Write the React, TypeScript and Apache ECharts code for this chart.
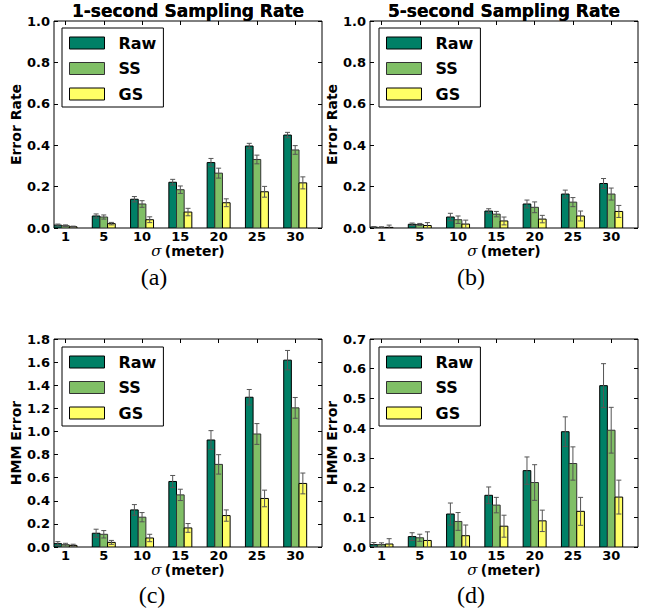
import React, { useEffect, useRef } from "react";
import * as echarts from "echarts";

// ---- data ----
const sigmaLabels = ["1", "5", "10", "15", "20", "25", "30"];
const methodNames = ["Raw", "SS", "GS"];
const methodColors = ["#008066", "#80bf66", "#ffff66"];

// (a) 1-second, error rate
const errRate1sRaw = [0.014, 0.058, 0.139, 0.221, 0.316, 0.396, 0.449];
const errRate1sRawErr = [0.005, 0.01, 0.013, 0.014, 0.02, 0.013, 0.013];
const errRate1sSS = [0.011, 0.053, 0.116, 0.185, 0.265, 0.331, 0.377];
const errRate1sSSErr = [0.004, 0.01, 0.016, 0.018, 0.024, 0.021, 0.021];
const errRate1sGS = [0.006, 0.021, 0.04, 0.077, 0.122, 0.175, 0.218];
const errRate1sGSErr = [0.003, 0.006, 0.014, 0.018, 0.019, 0.026, 0.029];

// (b) 5-second, error rate
const errRate5sRaw = [0.004, 0.018, 0.053, 0.082, 0.116, 0.164, 0.215];
const errRate5sRawErr = [0.003, 0.006, 0.018, 0.011, 0.019, 0.019, 0.024];
const errRate5sSS = [0.003, 0.017, 0.04, 0.067, 0.1, 0.125, 0.164];
const errRate5sSSErr = [0.003, 0.005, 0.018, 0.013, 0.026, 0.022, 0.029];
const errRate5sGS = [0.003, 0.012, 0.019, 0.034, 0.043, 0.058, 0.08];
const errRate5sGSErr = [0.011, 0.014, 0.019, 0.019, 0.018, 0.024, 0.029];

// (c) 1-second, HMM error
const hmm1sRaw = [0.029, 0.119, 0.321, 0.567, 0.926, 1.296, 1.617];
const hmm1sRawErr = [0.017, 0.035, 0.046, 0.052, 0.081, 0.067, 0.084];
const hmm1sSS = [0.02, 0.11, 0.258, 0.451, 0.715, 0.978, 1.204];
const hmm1sSSErr = [0.012, 0.032, 0.04, 0.049, 0.084, 0.09, 0.09];
const hmm1sGS = [0.014, 0.04, 0.078, 0.165, 0.272, 0.42, 0.55];
const hmm1sGSErr = [0.01, 0.017, 0.032, 0.038, 0.049, 0.072, 0.09];

// (d) 5-second, HMM error
const hmm5sRaw = [0.008, 0.035, 0.111, 0.174, 0.257, 0.388, 0.543];
const hmm5sRawErr = [0.007, 0.013, 0.037, 0.028, 0.046, 0.05, 0.074];
const hmm5sSS = [0.008, 0.031, 0.086, 0.141, 0.217, 0.281, 0.393];
const hmm5sSSErr = [0.006, 0.012, 0.03, 0.026, 0.06, 0.056, 0.077];
const hmm5sGS = [0.01, 0.022, 0.038, 0.07, 0.088, 0.12, 0.168];
const hmm5sGSErr = [0.018, 0.029, 0.036, 0.037, 0.036, 0.047, 0.057];

const panelTitles = [
  "1-second Sampling Rate",
  "5-second Sampling Rate",
  "1-second Sampling Rate",
  "5-second Sampling Rate",
];
const panelYNames = ["Error Rate", "Error Rate", "HMM Error", "HMM Error"];
const panelCaptions = ["(a)", "(b)", "(c)", "(d)"];
const panelYMax = [1.0, 1.0, 1.8, 0.7];
const panelYStep = [0.2, 0.2, 0.2, 0.1];
const panelValues = [
  [errRate1sRaw, errRate1sSS, errRate1sGS],
  [errRate5sRaw, errRate5sSS, errRate5sGS],
  [hmm1sRaw, hmm1sSS, hmm1sGS],
  [hmm5sRaw, hmm5sSS, hmm5sGS],
];
const panelErrors = [
  [errRate1sRawErr, errRate1sSSErr, errRate1sGSErr],
  [errRate5sRawErr, errRate5sSSErr, errRate5sGSErr],
  [hmm1sRawErr, hmm1sSSErr, hmm1sGSErr],
  [hmm5sRawErr, hmm5sSSErr, hmm5sGSErr],
];

// ---- layout ----
const layout = [
  { left: 54, top: 21, width: 268, height: 207, legL: 62, legT: 28, capX: 154, capY: 277 },
  { left: 370, top: 21, width: 268, height: 207, legL: 379, legT: 28, capX: 471, capY: 277 },
  { left: 54, top: 339, width: 268, height: 208, legL: 62, legT: 347, capX: 152, capY: 595 },
  { left: 370, top: 339, width: 268, height: 208, legL: 379, legT: 347, capX: 471, capY: 595 },
];
const BAR_W = 0.2;
const N_GROUPS = 7;
const FONT = "DejaVu Sans";
const edgeColors = ["#000", "#333", "#000"];

function makeRenderItem(offset: number, edge: string) {
  return (params: any, api: any) => {
    const i = api.value(0);
    const v = api.value(1);
    const e = api.value(2);
    const xl = i + offset;
    const xr = xl + BAR_W;
    const pBase = api.coord([xl, 0]);
    const pTop = api.coord([xr, v]);
    const xc = api.coord([xl + BAR_W / 2, v])[0];
    const yLo = api.coord([xl, Math.max(v - e, 0)])[1];
    const yHi = api.coord([xl, v + e])[1];
    const cap = 2.5;
    const errStyle = { stroke: "#555", lineWidth: 1 };
    return {
      type: "group",
      children: [
        {
          type: "rect",
          shape: {
            x: pBase[0],
            y: pTop[1],
            width: pTop[0] - pBase[0],
            height: pBase[1] - pTop[1],
          },
          style: { fill: api.visual("color"), stroke: edge, lineWidth: 1 },
        },
        { type: "line", shape: { x1: xc, y1: yLo, x2: xc, y2: yHi }, style: errStyle },
        { type: "line", shape: { x1: xc - cap, y1: yHi, x2: xc + cap, y2: yHi }, style: errStyle },
        ...(v - e > 0
          ? [{ type: "line", shape: { x1: xc - cap, y1: yLo, x2: xc + cap, y2: yLo }, style: errStyle }]
          : []),
      ],
    };
  };
}

function buildOption() {
  const grid: any[] = [];
  const xAxis: any[] = [];
  const yAxis: any[] = [];
  const series: any[] = [];
  const title: any[] = [];
  const legend: any[] = [];
  const graphic: any[] = [];

  layout.forEach((L, p) => {
    const unit = L.width / N_GROUPS;
    // main grid
    grid.push({
      left: L.left,
      top: L.top,
      width: L.width,
      height: L.height,
      show: true,
      borderColor: "#000",
      borderWidth: 1,
      backgroundColor: "transparent",
      containLabel: false,
    });
    // label grid shifted so band centres sit at group centres (i + 0.3)
    grid.push({
      left: L.left - 0.2 * unit,
      top: L.top,
      width: L.width,
      height: L.height,
      show: false,
      containLabel: false,
    });
    const gMain = 2 * p;
    const gLab = 2 * p + 1;

    xAxis.push({
      type: "value",
      gridIndex: gMain,
      min: 0,
      max: N_GROUPS,
      interval: 1,
      position: "bottom",
      axisLine: { show: false },
      axisTick: { show: false },
      axisLabel: { show: false },
      splitLine: { show: false },
      name: "{s|σ} {b|(meter)}",
      nameLocation: "middle",
      nameGap: 15,
      nameTextStyle: {
        rich: {
          s: { fontFamily: "DejaVu Serif", fontStyle: "italic", fontSize: 15, color: "#000" },
          b: { fontFamily: FONT, fontWeight: "bold", fontSize: 14, color: "#000" },
        },
      },
    });
    xAxis.push({
      type: "category",
      gridIndex: gLab,
      data: sigmaLabels,
      position: "bottom",
      boundaryGap: true,
      axisLine: { show: false },
      axisTick: { show: false },
      axisLabel: {
        margin: 2,
        color: "#000",
        fontFamily: FONT,
        fontWeight: "bold",
        fontSize: 13,
        interval: 0,
      },
      splitLine: { show: false },
    });
    xAxis.push({
      type: "category",
      gridIndex: gLab,
      data: sigmaLabels,
      position: "top",
      boundaryGap: true,
      axisLine: { show: false },
      axisTick: { show: true, inside: true, alignWithLabel: true, length: 4, interval: 0, lineStyle: { color: "#000" } },
      axisLabel: { show: false },
      splitLine: { show: false },
    });

    const yCommon = {
      type: "value",
      gridIndex: gMain,
      min: 0,
      max: panelYMax[p],
      interval: panelYStep[p],
      axisLine: { show: false },
      splitLine: { show: false },
      axisTick: { show: true, inside: true, length: 4, lineStyle: { color: "#000" } },
    };
    yAxis.push({
      ...yCommon,
      position: "left",
      axisLabel: {
        margin: 4,
        color: "#000",
        fontFamily: FONT,
        fontWeight: "bold",
        fontSize: 13,
        formatter: (v: number) => v.toFixed(1),
      },
      name: panelYNames[p],
      nameLocation: "middle",
      nameGap: 29,
      nameTextStyle: { color: "#000", fontFamily: FONT, fontWeight: "bold", fontSize: 14 },
    });
    yAxis.push({
      ...yCommon,
      position: "right",
      axisLabel: { show: false },
    });
    yAxis.push({
      type: "value",
      gridIndex: gLab,
      min: 0,
      max: 1,
      show: false,
    });

    methodNames.forEach((name, k) => {
      const vals = panelValues[p][k];
      const errs = panelErrors[p][k];
      series.push({
        type: "custom",
        name,
        xAxisIndex: 3 * p,
        yAxisIndex: 3 * p,
        clip: true,
        itemStyle: { color: methodColors[k] },
        encode: { x: 0, y: 1 },
        data: vals.map((v, i) => [i, v, errs[i]]),
        renderItem: makeRenderItem(k * BAR_W, edgeColors[k]),
      });
    });

    title.push({
      text: panelTitles[p],
      left: L.left + L.width / 2,
      top: 2,
      textAlign: "center",
      padding: 0,
      textStyle: { fontFamily: FONT, fontWeight: "bold", fontSize: 17, color: "#000" },
    });

    legend.push({
      orient: "vertical",
      left: L.legL,
      top: L.legT,
      padding: [7, 7, 5, 7],
      itemWidth: 35,
      itemHeight: 12,
      itemGap: 9.5,
      icon: "rect",
      selectedMode: false,
      backgroundColor: "#fff",
      borderColor: "#000",
      borderWidth: 1,
      textStyle: {
        fontFamily: FONT,
        fontWeight: "bold",
        fontSize: 16,
        lineHeight: 16,
        color: "#000",
        padding: [0, 0, 0, 9],
      },
      data: methodNames.map((n, k) => ({
        name: n,
        itemStyle: { color: methodColors[k], borderColor: edgeColors[k], borderWidth: 1 },
      })),
    });

    graphic.push({
      type: "text",
      x: L.capX,
      y: L.capY,
      style: {
        text: panelCaptions[p],
        fontFamily: "Liberation Serif",
        fontSize: 24,
        fill: "#000",
        align: "center",
        verticalAlign: "middle",
      },
    });
  });

  return {
    animation: false,
    backgroundColor: "#fff",
    grid,
    xAxis,
    yAxis,
    series,
    title,
    legend,
    graphic,
  };
}

export default function App() {
  const ref = useRef<HTMLDivElement>(null);
  useEffect(() => {
    if (!ref.current) return;
    const chart = echarts.init(ref.current, undefined, { renderer: "svg" });
    chart.setOption(buildOption() as any);
    return () => chart.dispose();
  }, []);
  return (
    <div
      ref={ref}
      style={{ position: "fixed", left: 0, top: 0, width: 662, height: 615 }}
    />
  );
}
